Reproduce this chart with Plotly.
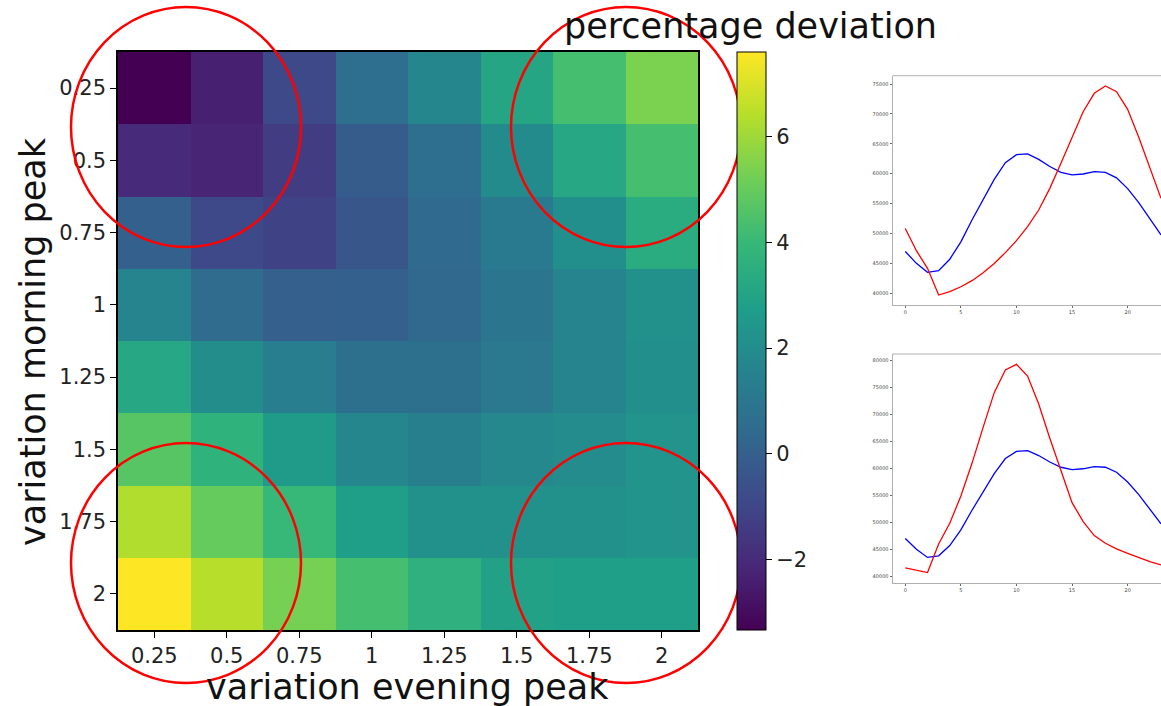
import plotly.graph_objects as go

W, H = 1161, 706

# Heatmap: percentage deviation for scaled evening (columns) and morning (rows) peaks
evening_labels = ["0.25", "0.5", "0.75", "1", "1.25", "1.5", "1.75", "2"]
morning_labels = ["0.25", "0.5", "0.75", "1", "1.25", "1.5", "1.75", "2"]

deviation = [
    [-3.33, -2.35, -0.90, 0.60, 1.70, 3.10, 4.30, 5.40],
    [-2.00, -2.20, -1.36, -0.16, 0.60, 1.90, 3.20, 4.30],
    [0.00, -0.90, -1.15, -0.40, 0.40, 1.15, 2.10, 3.40],
    [1.60, 0.50, -0.05, 0.00, 0.30, 0.95, 1.60, 2.20],
    [3.20, 2.00, 1.30, 0.70, 0.70, 1.10, 1.60, 2.10],
    [4.70, 3.70, 2.60, 1.70, 1.40, 1.80, 1.95, 2.30],
    [6.30, 5.00, 4.00, 2.80, 2.20, 2.20, 2.20, 2.30],
    [7.60, 6.40, 5.30, 4.30, 3.60, 2.90, 2.80, 2.80],
]
colorbar_ticks = [-2, 0, 2, 4, 6]

# Hourly load profiles (base in blue, modified in red)
hours = list(range(24))
base_load = [47000, 45010, 43500, 43800, 45700, 48600, 52250, 55600, 59050, 61850,
             63180, 63300, 62400, 61200, 60230, 59800, 59950, 60340, 60230, 59300,
             57500, 55150, 52500, 49750]
evening_shift_load = [50850, 47130, 44170, 39710, 40270, 41100, 42110, 43450, 45000, 46800,
                      48800, 51140, 53930, 57550, 61730, 66190, 70370, 73440, 74670, 73720,
                      70760, 66080, 61060, 55880]
morning_shift_load = [41560, 41060, 40690, 46000, 49840, 54900, 60960, 67640, 74070, 78270,
                      79320, 77160, 71970, 65600, 59420, 53670, 50150, 47550, 46130, 45080,
                      44270, 43470, 42730, 42110]
small_xticks = [0, 5, 10, 15, 20]
top_yticks = [40000, 45000, 50000, 55000, 60000, 65000, 70000, 75000]
bottom_yticks = [40000, 45000, 50000, 55000, 60000, 65000, 70000, 75000, 80000]


def px_x(p):
    return p / W


def px_y(p):
    return 1 - p / H


FONT = "DejaVu Sans"

fig = go.Figure()

zmin = min(min(r) for r in deviation)
zmax = max(max(r) for r in deviation)

fig.add_trace(go.Heatmap(
    x=evening_labels, y=morning_labels, z=deviation,
    colorscale="Viridis", zmin=zmin, zmax=zmax,
    xaxis="x", yaxis="y", xgap=0, ygap=0,
    colorbar=dict(
        x=px_x(737), xanchor="left", xpad=0,
        y=px_y(341), yanchor="middle", len=578 / H, lenmode="fraction",
        thickness=29, thicknessmode="pixels", ypad=0,
        outlinewidth=1, outlinecolor="black",
        tickvals=colorbar_ticks, ticks="outside", ticklen=6, tickcolor="black",
        tickfont=dict(family=FONT, size=21, color="#222"),
    ),
))

line_w = 1.3
fig.add_trace(go.Scatter(x=hours, y=base_load, mode="lines",
                         line=dict(color="#0000ff", width=line_w),
                         xaxis="x2", yaxis="y2", showlegend=False))
fig.add_trace(go.Scatter(x=hours, y=evening_shift_load, mode="lines",
                         line=dict(color="#ff0000", width=line_w),
                         xaxis="x2", yaxis="y2", showlegend=False))
fig.add_trace(go.Scatter(x=hours, y=base_load, mode="lines",
                         line=dict(color="#0000ff", width=line_w),
                         xaxis="x3", yaxis="y3", showlegend=False))
fig.add_trace(go.Scatter(x=hours, y=morning_shift_load, mode="lines",
                         line=dict(color="#ff0000", width=line_w),
                         xaxis="x3", yaxis="y3", showlegend=False))

tick_font = dict(family=FONT, size=21, color="#222")
small_font = dict(family=FONT, size=5, color="#444")

small_axis = dict(showgrid=False, zeroline=False, showline=True, linecolor="#b0b0b0",
                  linewidth=1, ticks="outside", ticklen=2, tickcolor="#666",
                  tickfont=small_font, tickformat="d")

fig.update_layout(
    width=W, height=H,
    margin=dict(l=0, r=0, t=0, b=0),
    paper_bgcolor="white", plot_bgcolor="white",
    showlegend=False,
    xaxis=dict(domain=[px_x(118), px_x(698)], type="category",
               showline=True, mirror=True, linecolor="black", linewidth=1.5,
               ticks="outside", ticklen=6, tickcolor="black", tickfont=tick_font,
               showgrid=False, zeroline=False, anchor="y"),
    yaxis=dict(domain=[px_y(630), px_y(52)], type="category", autorange="reversed",
               showline=True, mirror=True, linecolor="black", linewidth=1.5,
               ticks="outside", ticklen=6, tickcolor="black", tickfont=tick_font,
               showgrid=False, zeroline=False, anchor="x"),
    xaxis2=dict(domain=[px_x(892.5), 1.0], range=[-1.15, 23.0], anchor="y2",
                tickvals=small_xticks, **small_axis),
    yaxis2=dict(domain=[px_y(305), px_y(75.7)], range=[38044, 76388], anchor="x2",
                tickvals=top_yticks, **small_axis),
    xaxis3=dict(domain=[px_x(892.5), 1.0], range=[-1.15, 23.0], anchor="y3",
                tickvals=small_xticks, **small_axis),
    yaxis3=dict(domain=[px_y(583.3), px_y(354)], range=[38701, 81243], anchor="x3",
                tickvals=bottom_yticks, **small_axis),
)

# top borders of the small line panels
for top_px in (75.7, 354):
    fig.add_shape(type="line", xref="paper", yref="paper",
                  x0=px_x(892.5), x1=1.0, y0=px_y(top_px), y1=px_y(top_px),
                  line=dict(color="#b0b0b0", width=1))

title_font = dict(family=FONT, size=35, color="#111")
fig.add_annotation(text="percentage deviation", xref="paper", yref="paper",
                   x=px_x(750), y=px_y(26), xanchor="center", yanchor="middle",
                   showarrow=False, font=title_font, borderpad=0)
fig.add_annotation(text="variation evening peak", xref="paper", yref="paper",
                   x=px_x(407), y=px_y(687), xanchor="center", yanchor="middle",
                   showarrow=False, font=title_font, borderpad=0)
fig.add_annotation(text="variation morning peak", xref="paper", yref="paper",
                   x=px_x(33), y=px_y(342), xanchor="center", yanchor="middle",
                   textangle=-90, showarrow=False, font=title_font, borderpad=0)

# red highlight circles around the four corners of the grid
circle_centers = [(186, 127), (626, 127), (186, 563), (626, 563)]
for cx, cy in circle_centers:
    fig.add_shape(type="circle", xref="paper", yref="paper",
                  x0=px_x(cx - 115), x1=px_x(cx + 115),
                  y0=px_y(cy + 120), y1=px_y(cy - 120),
                  line=dict(color="#ff0000", width=2.5), layer="above")

fig.write_html("out.html")
